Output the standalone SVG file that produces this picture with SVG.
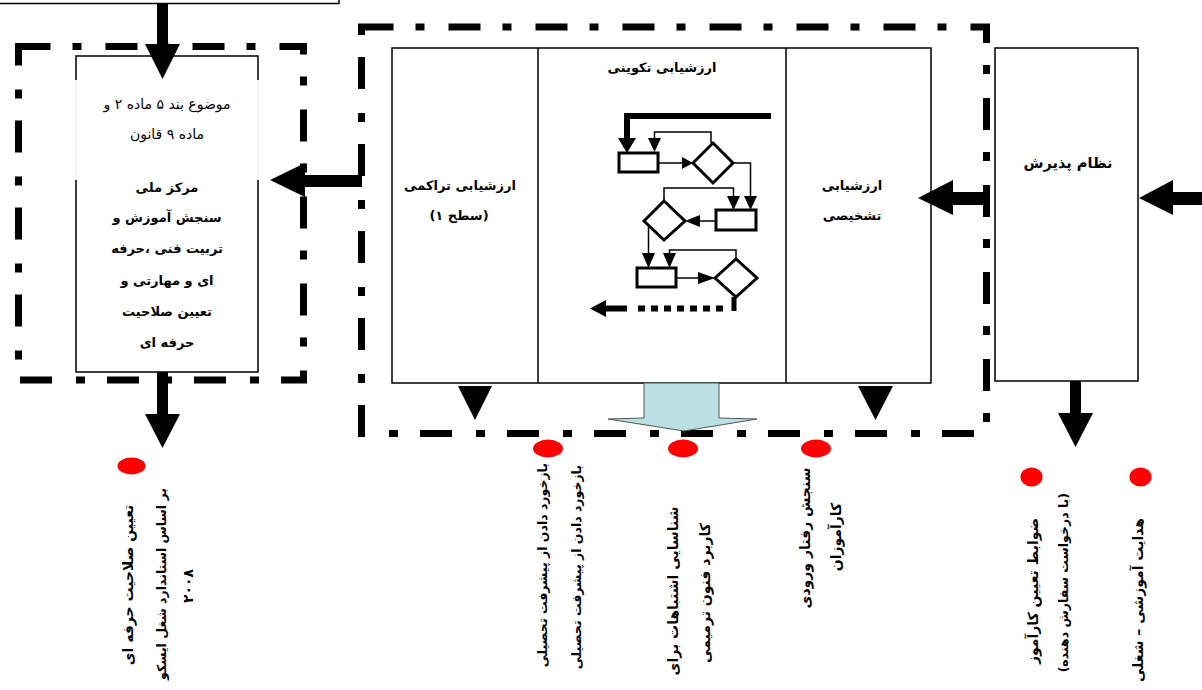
<svg xmlns="http://www.w3.org/2000/svg" width="1202" height="690" viewBox="0 0 1202 690">
<style>
text{font-family:"DejaVu Sans","Noto Sans",sans-serif;fill:#000;}
.b{font-weight:bold;font-size:13px;}
.r{font-size:14px;}
.v{font-weight:bold;font-size:14px;}
.vs{font-weight:bold;font-size:12.5px;}
.box{fill:#fff;stroke:#000;stroke-width:1.5;}
.dd{fill:none;stroke:#000;stroke-width:7;stroke-dasharray:32 22 9 24;}
.fc{fill:none;stroke:#000;stroke-width:3;}
.ln{fill:none;stroke:#000;stroke-width:1.5;}
.dot{fill:#f00;}
</style>
<rect width="1202" height="690" fill="#fff"/>

<g id="top-box"><rect x="-2" y="-30" width="341" height="33.5" class="box"/></g>

<g id="left-group">
<rect x="18.5" y="46.5" width="285" height="333.5" class="dd"/>
<rect x="76" y="56" width="182" height="316" fill="#fff" stroke="none"/>
<path d="M76,80 V56 H258 V80 M76,180 V372 H258 V180" class="ln"/>
<path d="M76,80 V180 M258,80 V180" fill="none" stroke="#e6e6e6" stroke-width="1"/>
<text class="r" x="167" y="109" text-anchor="middle">موضوع بند ۵ ماده ۲ و</text>
<text class="r" x="167" y="139" text-anchor="middle">ماده ۹ قانون</text>
<text class="b" x="167" y="192" text-anchor="middle">مرکز ملی</text>
<text class="b" x="167" y="222" text-anchor="middle">سنجش آموزش و</text>
<text class="b" x="167" y="253" text-anchor="middle">تربیت فنی ،حرفه</text>
<text class="b" x="167" y="285" text-anchor="middle">ای و مهارتی و</text>
<text class="b" x="167" y="316" text-anchor="middle">تعیین صلاحیت</text>
<text class="b" x="167" y="347" text-anchor="middle">حرفه ای</text>
</g>

<g id="evaluation-group">
<rect x="361.5" y="27" width="625" height="406.5" class="dd"/>
<rect x="392" y="48" width="539" height="335" class="box"/>
<line x1="538" y1="48" x2="538" y2="383" class="ln"/>
<line x1="786" y1="48" x2="786" y2="383" class="ln"/>
<text class="b" x="662" y="72" text-anchor="middle">ارزشیابی تکوینی</text>
<text class="b" x="460" y="190" text-anchor="middle">ارزشیابی تراکمی</text>
<text class="b" x="459" y="220" text-anchor="middle">(سطح ۱)</text>
<text class="b" x="852" y="190" text-anchor="middle">ارزشیابی</text>
<text class="b" x="852" y="220" text-anchor="middle">تشخیصی</text>
</g>

<g id="flowchart">
<path d="M771,116 H627 V140" fill="none" stroke="#000" stroke-width="6"/>
<polygon points="618,138 636,138 627,153"/>
<rect x="619" y="153" width="39" height="19" class="fc" fill="#fff"/>
<path d="M711,143 V132 H654.5 V140" class="ln"/>
<polygon points="648,138 661,138 654.5,152"/>
<path d="M658,163 H684" class="ln"/>
<polygon points="682,157 682,169 693,163"/>
<polygon points="693,163 713,143 733,163 713,183" class="fc" fill="#fff"/>
<path d="M733,163 H750.5 V198" class="ln"/>
<polygon points="744,196 757,196 750.5,210"/>
<rect x="716" y="210" width="40" height="20" class="fc" fill="#fff"/>
<path d="M664,201 V188 H733.5 V198" class="ln"/>
<polygon points="727,196 740,196 733.5,210"/>
<path d="M716,221 H698" class="ln"/>
<polygon points="700,215 700,227 685,221"/>
<polygon points="644,221 664,201 685,221 664,240" class="fc" fill="#fff"/>
<path d="M648.5,225 V256" class="ln"/>
<polygon points="642,253 655,253 648.5,268"/>
<rect x="637" y="268" width="39" height="19" class="fc" fill="#fff"/>
<path d="M736,260 V250 H669.5 V256" class="ln"/>
<polygon points="663,253 676,253 669.5,268"/>
<path d="M676,278 H700" class="ln"/>
<polygon points="698,272 698,284 715,278"/>
<polygon points="715,278 736,259 757,278 736,297" class="fc" fill="#fff"/>
<rect x="731.5" y="297" width="5" height="14"/>
<path d="M723,308.5 H636" fill="none" stroke="#000" stroke-width="6" stroke-dasharray="7 6"/>
<path d="M627,308.5 H604" fill="none" stroke="#000" stroke-width="6"/>
<polygon points="606,300 606,317 590,308.5"/>
</g>

<g id="admission">
<rect x="995" y="48" width="143" height="333" class="box"/>
<text class="b" x="1068" y="168" text-anchor="middle" style="font-size:14.5px">نظام پذیرش</text>
</g>

<g id="connectors">
<rect x="157" y="4" width="11" height="42"/>
<polygon points="145,44 180,44 162.5,79"/>
<rect x="304" y="175" width="58" height="12"/>
<polygon points="305,163 305,197 270,180"/>
<rect x="157" y="372" width="11" height="44"/>
<polygon points="145,414 180,414 162.5,448"/>
<rect x="1172" y="192" width="30" height="13"/>
<polygon points="1173,180 1173,215 1139,198"/>
<rect x="951" y="192" width="38" height="13"/>
<polygon points="953,180 953,215 918,198"/>
<rect x="1070" y="381" width="11" height="34"/>
<polygon points="1058,413 1093,413 1075.5,447"/>
<polygon points="458,386 492,386 475,420"/>
<polygon points="858,386 893,386 875.5,420"/>
<polygon points="644,383 719,383 719,418 757,419 684,431 608,419 644,418" fill="#b9e0e2" stroke="#555" stroke-width="1"/>
</g>

<g id="outputs">
<ellipse cx="131.5" cy="466" rx="14" ry="8.5" class="dot"/>
<ellipse cx="548" cy="448.5" rx="15" ry="9" class="dot"/>
<ellipse cx="683" cy="448.5" rx="15" ry="9" class="dot"/>
<ellipse cx="816" cy="448.5" rx="15" ry="9" class="dot"/>
<ellipse cx="1031.5" cy="477" rx="11" ry="9.5" class="dot"/>
<ellipse cx="1140.5" cy="477" rx="11" ry="9.5" class="dot"/>

<text class="v" transform="translate(133,585) rotate(-90)" text-anchor="middle">تعیین صلاحیت حرفه ای</text>
<text class="vs" transform="translate(166,584) rotate(-90)" text-anchor="middle">بر اساس استاندارد شغل ایسکو</text>
<text class="v" transform="translate(193,586) rotate(-90)" text-anchor="middle">۲۰۰۸</text>

<text class="vs" transform="translate(547,463) rotate(-90)" text-anchor="end">بازخورد دادن از پیشرفت تحصیلی</text>
<text class="vs" transform="translate(581,465) rotate(-90)" text-anchor="end">بازخورد دادن از پیشرفت تحصیلی</text>

<text class="v" transform="translate(678,591) rotate(-90)" text-anchor="middle">شناسایی اشتباهات برای</text>
<text class="v" transform="translate(710,593) rotate(-90)" text-anchor="middle">کاربرد فنون ترمیمی</text>

<text class="v" transform="translate(810,538) rotate(-90)" text-anchor="middle">سنجش رفتار ورودی</text>
<text class="v" transform="translate(841,537) rotate(-90)" text-anchor="middle">کارآموزان</text>

<text class="v" transform="translate(1038,591) rotate(-90)" text-anchor="middle">ضوابط تعیین کارآموز</text>
<text class="vs" transform="translate(1068,493) rotate(-90)" text-anchor="end">(با درخواست سفارش دهنده)</text>

<text class="v" transform="translate(1143,518) rotate(-90)" text-anchor="end">هدایت آموزشی – شغلی</text>
</g>
</svg>
